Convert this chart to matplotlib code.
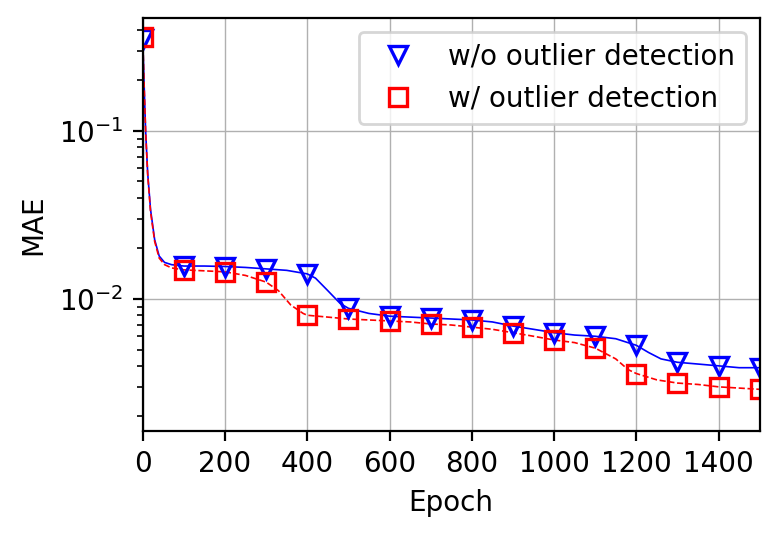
import numpy as np
import matplotlib
matplotlib.use('Agg')
import matplotlib.pyplot as plt

plt.rcParams['font.family'] = 'DejaVu Sans'
plt.rcParams['font.size'] = 10

# ---- curves (epoch, MAE) ----
ep_wo = [0, 3, 7, 12, 19, 29, 40, 53, 70, 100, 150, 200, 250, 300, 350, 400,
         420, 450, 480, 500, 550, 600, 650, 700, 750, 800, 850, 900, 950,
         1000, 1050, 1100, 1150, 1200, 1230, 1260, 1300, 1350, 1400, 1450, 1500]
mae_wo = [0.35, 0.2, 0.1, 0.056, 0.034, 0.0225, 0.018, 0.0165, 0.016, 0.0157,
          0.0157, 0.0156, 0.0154, 0.0151, 0.0148, 0.0141, 0.0133, 0.0112,
          0.0094, 0.0088, 0.0082, 0.0079, 0.0078, 0.0077, 0.0076, 0.0075,
          0.0073, 0.0069, 0.0066, 0.0063, 0.0061, 0.0060, 0.0058, 0.0053,
          0.0048, 0.0044, 0.0042, 0.0041, 0.0040, 0.0039, 0.0039]

ep_w = [0, 3, 7, 12, 19, 29, 40, 53, 70, 100, 150, 200, 250, 300, 330, 360,
        390, 400, 450, 500, 550, 600, 650, 700, 750, 800, 850, 900, 950, 1000,
        1050, 1100, 1150, 1180, 1200, 1250, 1300, 1350, 1400, 1450, 1500]
mae_w = [0.36, 0.2, 0.1, 0.055, 0.033, 0.022, 0.0175, 0.016, 0.0153, 0.0149,
         0.0147, 0.0145, 0.0138, 0.0126, 0.0112, 0.0092, 0.0082, 0.0080,
         0.0078, 0.0076, 0.0075, 0.0074, 0.0073, 0.0071, 0.0070, 0.0068,
         0.0066, 0.0063, 0.0060, 0.0057, 0.0055, 0.0051, 0.0044, 0.0038,
         0.0036, 0.0033, 0.00316, 0.0031, 0.0030, 0.00295, 0.0029]

label_wo = 'w/o outlier detection'
label_w = 'w/ outlier detection'

fig = plt.figure(figsize=(3.9, 2.69), dpi=200)
ax = fig.add_axes([0.183, 0.199, 0.791, 0.768])

ep_wo = np.array(ep_wo)
ep_w = np.array(ep_w)
mk_wo = np.where(ep_wo % 100 == 0)[0]
mk_w = np.where(ep_w % 100 == 0)[0]

ax.plot(ep_wo, mae_wo, '-', color='blue', lw=0.6)
ax.plot(ep_w, mae_w, '--', color='red', lw=0.6)
ax.plot(ep_wo[mk_wo], np.array(mae_wo)[mk_wo], 'v', ls='none', ms=6.5,
        mfc='none', mec='blue', mew=1.2, label=label_wo)
ax.plot(ep_w[mk_w], np.array(mae_w)[mk_w], 's', ls='none', ms=6.5,
        mfc='none', mec='red', mew=1.2, label=label_w)

ax.set_yscale('log')
ax.set_xlim(0, 1500)
ax.set_ylim(0.00164, 0.471)
ax.set_xticks(np.arange(0, 1500, 200))
ax.set_xlabel('Epoch')
ax.set_ylabel('MAE')
ax.grid(True, which='major', color='#b0b0b0', lw=0.5)
ax.legend(loc='upper right', numpoints=1)

fig.savefig('out.png', dpi=200)
plt.close(fig)
